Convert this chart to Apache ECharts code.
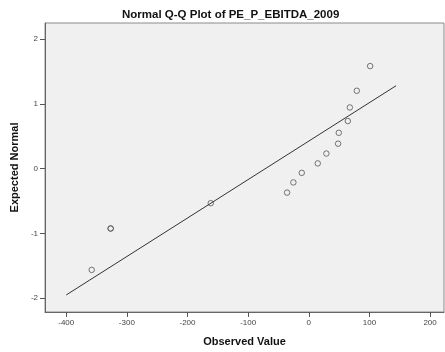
<!DOCTYPE html>
<html>
<head>
<meta charset="utf-8">
<script src="https://cdn.jsdelivr.net/npm/echarts@6/dist/echarts.min.js"></script>
<style>html,body{margin:0;padding:0;background:#fff}#c{width:445px;height:352px}</style>
</head>
<body>
<div id="c"></div>
<script>
var observed = [-358, -326.7, -326.7, -161.7, -35.8, -25.4, -11.6, 14.8, 29.0, 48.3, 49.5, 64.4, 67.7, 79.2, 101.2];
var expected = [-1.563, -0.924, -0.924, -0.533, -0.37, -0.213, -0.065, 0.081, 0.233, 0.385, 0.553, 0.735, 0.944, 1.202, 1.583];
var lineX = [-400, 144];
var lineY = [-1.95, 1.28];
var xTicks = [-400, -300, -200, -100, 0, 100, 200];
var yTicks = [-2, -1, 0, 1, 2];

var chart = echarts.init(document.getElementById('c'), null, {renderer: 'canvas'});
var font = 'Liberation Sans, Arial, sans-serif';
chart.setOption({
  animation: false,
  backgroundColor: '#ffffff',
  title: {
    text: 'Normal Q-Q Plot of PE_P_EBITDA_2009',
    left: 122, top: 9, padding: 0,
    textStyle: {fontFamily: font, fontSize: 11.5, fontWeight: 'bold', color: '#111'}
  },
  grid: {
    left: 45, right: 1, top: 23, bottom: 36,
    show: true, backgroundColor: '#f0f0f0', borderColor: '#8a8a8a', borderWidth: 1
  },
  xAxis: {
    type: 'value', min: -435, max: 223,
    name: 'Observed Value', nameLocation: 'middle', nameGap: 24,
    nameTextStyle: {fontFamily: font, fontSize: 11, fontWeight: 'bold', color: '#111'},
    axisLine: {show: true, onZero: false, lineStyle: {color: '#666', width: 1}},
    axisTick: {show: true, length: 5, customValues: xTicks, lineStyle: {color: '#555'}},
    axisLabel: {customValues: xTicks, fontFamily: font, fontSize: 8, color: '#444', margin: 7},
    splitLine: {show: false}
  },
  yAxis: {
    type: 'value', min: -2.213, max: 2.248,
    name: 'Expected Normal', nameLocation: 'middle', nameGap: 17,
    nameTextStyle: {fontFamily: font, fontSize: 11, fontWeight: 'bold', color: '#111'},
    axisLine: {show: true, onZero: false, lineStyle: {color: '#666', width: 1}},
    axisTick: {show: true, length: 5, customValues: yTicks, lineStyle: {color: '#555'}},
    axisLabel: {customValues: yTicks, fontFamily: font, fontSize: 8, color: '#444', margin: 7},
    splitLine: {show: false}
  },
  series: [
    {
      type: 'line',
      data: lineX.map(function (x, i) { return [x, lineY[i]]; }),
      symbol: 'none',
      lineStyle: {color: '#333', width: 1},
      silent: true
    },
    {
      type: 'scatter',
      data: observed.map(function (x, i) { return [x, expected[i]]; }),
      symbol: 'circle',
      symbolSize: 5.5,
      itemStyle: {color: 'rgba(0,0,0,0)', borderColor: '#555', borderWidth: 1}
    }
  ]
});
</script>
</body>
</html>
